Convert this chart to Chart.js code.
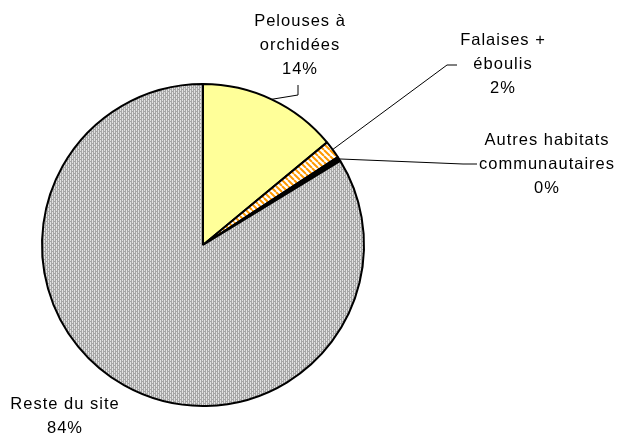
<!DOCTYPE html>
<html>
<head>
<meta charset="utf-8">
<script src="https://cdn.jsdelivr.net/npm/chart.js@4/dist/chart.umd.min.js"></script>
<style>
  html, body { margin: 0; padding: 0; background: #fff; }
  #wrap { width: 618px; height: 434px; }
</style>
</head>
<body>
<div id="wrap"><canvas id="camembert" width="618" height="434"></canvas></div>
<script>
// --- données ---
const habitats = [['Pelouses à', 'orchidées'], ['Falaises +', 'éboulis'], ['Autres habitats', 'communautaires'], ['Reste du site']];
const surfaces = [14.0, 1.8, 0.45, 83.75];

// position des étiquettes (centre x, y de la 1re ligne) et coude du trait de rappel
const etiquettes = [
  { x: 300, y: 21, coude: [[298, 95], [298, 85]] },
  { x: 503, y: 40, coude: [[447, 65], [457, 65]] },
  { x: 547, y: 140, coude: [[463, 164], [477, 164]] },
  { x: 65, y: 404, coude: null }
];

// motifs de remplissage
const motif = (w, h, dessin) => {
  const c = document.createElement('canvas');
  c.width = w; c.height = h;
  const g = c.getContext('2d');
  dessin(g);
  return g.createPattern(c, 'repeat');
};

const grisPointille = motif(4, 4, g => {
  g.fillStyle = '#a6a6a6';
  g.fillRect(0, 0, 4, 4);
  g.fillStyle = '#e2e2e2';
  g.fillRect(0, 0, 1, 3);
  g.fillRect(2, 2, 1, 3);
  g.fillRect(2, 0, 1, 1);
});

const rayuresOrange = motif(6, 6, g => {
  g.fillStyle = '#ffffff';
  g.fillRect(0, 0, 6, 6);
  g.strokeStyle = '#ff9900';
  g.lineWidth = 2;
  g.beginPath();
  for (let k = -6; k <= 12; k += 6) {
    g.moveTo(k, 0);
    g.lineTo(k + 6, 6);
  }
  g.stroke();
});

const couleurs = ['#ffff99', rayuresOrange, '#000000', grisPointille];

const pourcent = v => Math.round(v / surfaces.reduce((a, b) => a + b, 0) * 100) + '%';

const pluginEtiquettes = {
  id: 'etiquettes',
  afterDraw(chart) {
    const ctx = chart.ctx;
    const arcs = chart.getDatasetMeta(0).data;
    ctx.save();
    ctx.font = '16.5px "Liberation Sans", Arial, sans-serif';
    ctx.letterSpacing = '1px';
    ctx.fillStyle = '#000';
    ctx.textAlign = 'center';
    ctx.textBaseline = 'middle';

    etiquettes.forEach((e, i) => {
      const lignes = [...habitats[i], pourcent(surfaces[i])];
      lignes.forEach((t, j) => ctx.fillText(t, e.x, e.y + j * 24.3));

      if (e.coude) {
        const a = arcs[i];
        const ang = (a.startAngle + a.endAngle) / 2;
        ctx.strokeStyle = '#000';
        ctx.lineWidth = 1;
        ctx.beginPath();
        ctx.moveTo(a.x + Math.cos(ang) * a.outerRadius, a.y + Math.sin(ang) * a.outerRadius);
        e.coude.forEach(p => ctx.lineTo(p[0], p[1]));
        ctx.stroke();
      }
    });
    ctx.restore();
  }
};

new Chart(document.getElementById('camembert'), {
  type: 'pie',
  data: {
    labels: habitats.map(h => h.join(' ')),
    datasets: [{
      data: surfaces,
      backgroundColor: couleurs,
      borderColor: '#000',
      borderWidth: 2
    }]
  },
  options: {
    responsive: false,
    animation: false,
    layout: { padding: { left: 41, right: 253, top: 83, bottom: 27 } },
    plugins: {
      legend: { display: false },
      tooltip: { enabled: false }
    }
  },
  plugins: [pluginEtiquettes]
});
</script>
</body>
</html>
